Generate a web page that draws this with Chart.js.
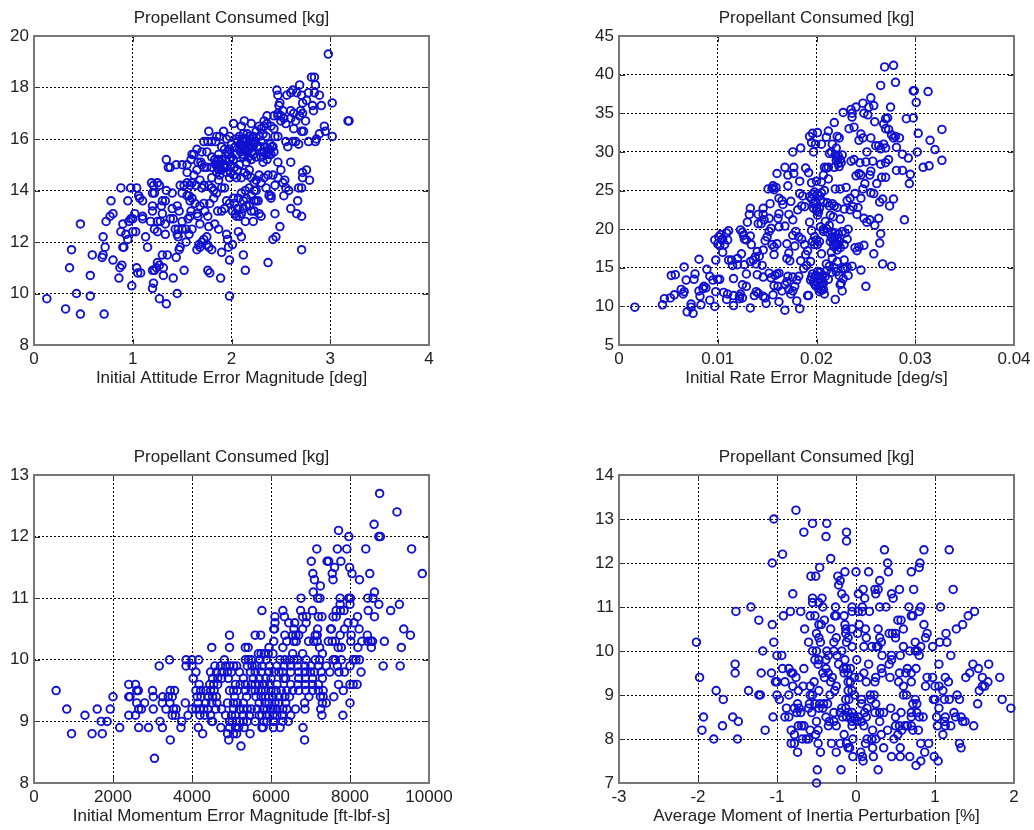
<!DOCTYPE html>
<html>
<head>
<meta charset="utf-8">
<title>Propellant Consumed</title>
<script src="https://cdn.jsdelivr.net/npm/chart.js@4"></script>
<style>
  html, body { margin: 0; padding: 0; background: #fff; }
  body { width: 1034px; height: 830px; position: relative; overflow: hidden; }
  canvas { position: absolute; filter: blur(0.4px); }
</style>
</head>
<body>
<canvas id="chartAttitude" style="left:0;top:0"></canvas>
<canvas id="chartRate" style="left:580px;top:0"></canvas>
<canvas id="chartMomentum" style="left:0;top:439px"></canvas>
<canvas id="chartInertia" style="left:580px;top:439px"></canvas>
<script>
// ---- DATA: [x, kg] pairs ----
var attitudePoints = [
  [0.13,9.8],[0.32,9.4],[0.47,9.2],[0.71,9.2],[0.43,10],[0.57,9.9],[0.36,11],[0.38,11.7],[0.47,12.7],[0.57,10.7],[0.59,11.5],[0.69,11.4],[0.7,11.5],[0.7,12.2],[0.72,11.8],[0.73,12.8],[0.77,13],[0.8,13.1],[0.78,13.6],[0.8,11.3],
  [0.86,10.6],[0.87,11],[0.89,11.1],[0.88,12.4],[0.9,11.8],[0.91,11.8],[0.9,12.7],[0.88,14.1],[0.93,12.3],[0.95,12.1],[0.95,13.6],[0.96,12.8],[0.98,12.9],[1,12.9],[0.99,10.3],[1,12.4],[1.03,12.4],[1.02,13.1],[0.98,14.1],[1.04,14.1],
  [1.06,13.8],[1.07,13.7],[1.1,13.6],[1.1,13],[1.1,12.9],[1.04,11],[1.05,10.8],[1.08,10.8],[1.13,12.2],[1.15,11.8],[1.18,12.8],[1.2,13.2],[1.2,13.4],[1.19,14.3],[1.21,14.2],[1.2,13.9],[1.22,13.9],[1.25,14.3],[1.27,14.2],[1.25,12.8],
  [1.22,12.5],[1.25,12.4],[1.28,12.8],[1.2,10.9],[1.22,10.9],[1.24,11],[1.25,11.2],[1.27,11.1],[1.2,10.2],[1.21,10.4],[1.27,9.8],[1.34,9.6],[1.3,11.5],[1.35,11.5],[1.31,11],[1.31,10.7],[1.41,10.6],[1.45,10],[1.44,11.4],[1.47,11.7],
  [1.48,11.8],[1.52,10.9],[1.54,12],[1.33,12.3],[1.33,12.7],[1.3,13.1],[1.29,13.4],[1.3,13.6],[1.33,13.6],[1.34,14],[1.4,13.9],[1.38,12.9],[1.41,12.9],[1.4,13.3],[1.45,13.4],[1.47,13.2],[1.43,12.5],[1.46,12.5],[1.45,12.3],[1.46,12.2],
  [1.5,12.5],[1.54,12.5],[1.5,12.8],[1.56,12.9],[1.58,13],[1.6,12.5],[1.57,12.3],[1.34,15.2],[1.36,14.9],[1.38,14.9],[1.44,15],[1.5,15],[1.55,15],[1.48,14.2],[1.55,14.7],[1.55,14.3],[1.59,15.2],[1.6,15.4],[1.62,15.4],[1.65,15.6],
  [1.7,15.5],[1.75,15.5],[1.77,16.3],[1.76,15.9],[1.5,13.9],[1.52,14.2],[1.55,13.8],[1.57,13.8],[1.6,13.7],[1.58,13.6],[1.63,13.5],[1.59,13.2],[1.65,13.1],[1.66,13],[1.68,12.7],[1.72,13.5],[1.73,13.2],[1.76,13],[1.77,12.6],[1.78,13.5],
  [1.82,13.7],[1.85,13.9],[1.83,12.7],[1.87,12.5],[1.86,13.2],[1.9,13.2],[1.93,13.3],[1.95,12.3],[1.96,12.1],[1.97,11.8],[2.01,11.9],[1.9,11.6],[1.98,11.3],[2.07,12.4],[2.1,12.2],[2.12,11.5],[2.14,10.9],[1.76,10.9],[1.78,10.8],[1.89,10.6],
  [1.98,9.9],[1.65,11.7],[1.67,11.9],[1.7,12],[1.72,12.1],[1.75,12.2],[1.75,11.9],[1.77,11.8],[1.8,11.7],[1.68,11.8],[2.37,11.2],[2.42,12.1],[2.45,12.2],[2.49,12.6],[2.71,11.7],[2.44,13.1],[2.6,13.3],[2.66,13.1],[2.71,13],[2.67,13.6],
  [2.68,14.1],[2.71,14.1],[2.72,14.5],[2.72,14.7],[2.76,14.8],[2.79,14.4],[2.6,15.1],[2.54,14.4],[2.5,14.8],[2.47,15.1],[2.52,14.3],[2.47,14.5],[2.44,14.2],[2.42,14.6],[2.37,14.6],[2.33,14.5],[2.35,14.1],[2.38,13.8],[2.4,13.8],[2.4,13.7],
  [2.53,13.8],[2.58,14],[2.25,13.6],[2.27,13.6],[2.2,13.2],[2.23,13.2],[2.28,13.1],[2.3,13],[2.14,12.8],[2.22,12.8],[2.05,13],[2.08,13],[2.1,13.1],[2.06,13.3],[2.12,13.3],[2.15,13.4],[2.18,13.4],[2.12,13.6],[2.15,13.7],[2.07,13.7],
  [2.1,13.9],[2.14,14],[2.18,14.1],[2.23,14],[2.25,14],[2.23,14.3],[2.25,14.4],[2.2,14.5],[2.1,14.5],[2.13,14.7],[2.16,14.6],[2.06,14.8],[2.05,14.5],[1.98,14.5],[1.95,14.7],[1.93,14.1],[1.9,14.1],[1.87,14.4],[1.82,14],[1.8,14.1],
  [1.77,14.2],[1.72,14.2],[1.7,14.1],[1.68,14.4],[1.64,14.2],[1.6,14.3],[1.65,14.8],[1.7,15],[1.72,14.9],[1.66,15.1],[1.69,15.1],[1.75,14.9],[1.8,14.9],[1.84,15],[1.86,14.9],[1.88,15],[1.9,15.2],[1.93,15],[1.87,15.4],[1.9,15.7],
  [1.85,16.1],[1.88,16.1],[1.92,16.3],[1.95,16],[1.98,16.1],[2.02,16.6],[2.1,16.5],[2.13,16.7],[2.2,16.6],[2.28,16.5],[2.33,16.7],[2.36,16.9],[2.43,16.9],[2.47,16.9],[2.4,16.5],[2.46,17.9],[2.47,17.7],[2.49,17.4],[2.48,17.3],[2.47,17],
  [2.53,16.8],[2.6,17.1],[2.63,17],[2.56,17.7],[2.6,17.8],[2.62,17.9],[2.66,17.8],[2.69,18.1],[2.71,17.7],[2.76,17.5],[2.72,17.4],[2.7,17.1],[2.69,16.9],[2.72,17],[2.78,17.8],[2.81,18.4],[2.84,18.4],[2.85,18.1],[2.84,17.8],[2.89,17.7],
  [2.82,17.3],[2.83,17.1],[2.91,17.3],[3.02,17.4],[2.98,19.3],[3.18,16.7],[3.19,16.7],[2.94,16.5],[2.95,16.3],[2.89,16.2],[3.02,16.1],[2.85,15.9],[2.86,16],[2.78,15.9],[2.75,16.7],[2.73,16.3],[2.71,16.3],[2.63,16.4],[2.65,16.7],[2.6,16.8],
  [2.68,15.8],[2.62,15.9],[2.57,15.7],[2.65,15.9],[2.55,15.9],[2.47,16.1],[2.44,16.1],[2.42,15.7],[2.38,15.4],[2,15.3],[2.02,15.2],[2.05,15.4],[2.08,15.6],[2.1,15.7],[2.12,15.9],[2.14,16],[2.16,15.8],[2.18,16.1],[2.2,15.9],[2.12,16.2],
  [2.08,16.1],[2.05,16],[2,15.8],[1.96,15.5],[1.93,15.6],[1.98,15.2],[2.15,15.5],[2.18,15.6],[2.22,15.4],[2.25,15.3],[2.2,15.2],[2.15,15.1],[2.26,15.7],[2.3,15.9],[2.28,16.1],[2.32,16.2],[2.25,16.3],[2.22,16.1],[2.35,16.1],[2.38,15.6],
  [2.4,15.4],[2.36,15.2],[2.33,15.5],[2.41,15.7],[2.32,15.1],[2.3,15.3],[2.12,15.4],[2.03,14.9],[1.9,14.8],[1.95,14.9],[2.08,15],[2.3,16.4],[2.33,16.5],[2.36,16.6],[1.8,15.3],[1.83,15.2],[1.8,15.9],[1.84,15.9],[1.72,15.9],[2.43,16.4],
  [2.5,16.7],[2.55,16.6],[2.5,16.9],[2.52,17.1],[2.14,15.6],[2.17,15.3],[2.2,15.7],[2.24,15.9],[2.04,15.7],[1.98,15.6],[1.85,14.7],[1.88,14.6],[2.02,13.7],[1.95,13.6],[1.98,13.5],[2.01,13.2],[2.04,13.1],[1.68,13.4],[1.8,14.5],[2.3,14.3],
  [2.06,15.9],[2.09,15.8],[2.11,16],[2.13,15.6],[2.15,15.9],[2.17,15.7],[2.19,16],[2.21,15.5],[2.23,15.8],[2.12,15.3],[2.16,16.2],[2.09,15.5],[2.31,15.5],[2.34,15.7],[2.37,15.5],[2.39,15.8],[2.43,15.5],[2.35,15.4],[2.29,15.7],
  [1.84,15.1],[1.87,14.8],[1.89,15.1],[1.92,14.9],[1.86,15.2],[1.94,15.2],[1.97,15.4],[1.99,15],[2.55,14.1],[2.03,13.5],[2.2,13.8],[2.23,13.6],[1.99,14.7],[2.02,14.6],[2.18,14.8],[2.28,14.6],[1.62,14.6],[1.58,14.2]
];

var ratePoints = [
  [0.0016,9.9],[0.0044,10.2],[0.0046,11],[0.0052,11.1],[0.0053,14],[0.0056,11.5],[0.0057,14.1],[0.0063,12.2],[0.0065,11.6],[0.0066,11.9],[0.0066,15.1],[0.0068,13.4],[0.0069,9.3],[0.0073,10.3],[0.0075,9.1],[0.0073,9.9],[0.0076,13.5],[0.0077,14.2],[0.0081,16.1],[0.0081,12],
  [0.0082,11.3],[0.0083,10.2],[0.0085,12.3],[0.0086,12.6],[0.0088,12.4],[0.0089,14.8],[0.0092,10.8],[0.0092,13.9],[0.0095,13.4],[0.0098,16],[0.0097,10],[0.0098,11.9],[0.01,13.5],[0.0102,13.5],[0.0097,18.6],[0.01,18.1],[0.0101,19],[0.0102,17.9],[0.0103,19.3],[0.0104,18.6],
  [0.0105,18.7],[0.0107,18],[0.0109,19.5],[0.011,18.6],[0.0111,19.8],[0.0105,17],[0.0106,11.8],[0.011,11.6],[0.0109,10.9],[0.0111,16],[0.0114,16],[0.0115,15.3],[0.0116,13.6],[0.0116,11.4],[0.0116,10.1],[0.012,16.2],[0.012,15.4],[0.0123,11.6],[0.0122,11.3],[0.0125,11.1],
  [0.0122,11],[0.0124,16.8],[0.0123,19.9],[0.0125,19.6],[0.0126,19.2],[0.0127,18.7],[0.0129,18.6],[0.0125,12.8],[0.0129,12.6],[0.0129,14.2],[0.0127,15.4],[0.013,20.9],[0.0132,21.9],[0.0133,22.7],[0.0133,9.8],[0.0133,19.1],[0.0134,18],[0.0133,15.8],[0.0136,16],[0.0138,16.4],
  [0.0137,11.4],[0.0139,11.9],[0.0141,11.7],[0.014,14.1],[0.0139,15.5],[0.014,17.1],[0.0142,16.5],[0.0141,20.7],[0.0144,20.7],[0.0141,21.9],[0.0146,21.9],[0.0146,22.7],[0.0147,21.2],[0.0146,17.3],[0.0145,15.3],[0.0146,13.8],[0.0146,11.3],[0.0148,11.1],[0.0149,10.4],[0.0148,18.5],
  [0.015,19],[0.0152,19.7],[0.0154,20.1],[0.0152,21.4],[0.0151,25.2],[0.0153,23.3],[0.0155,25.3],[0.0156,25.6],[0.0157,25.1],[0.0159,25.4],[0.0155,18],[0.0157,17.7],[0.016,18.1],[0.0157,16.7],[0.0152,14.3],[0.0154,13.7],[0.0156,11.5],[0.0157,12.7],[0.0158,14],[0.016,14.2],
  [0.0161,12.6],[0.0162,14.3],[0.0162,10.6],[0.0165,12],[0.0168,12.8],[0.0168,9.5],[0.017,13.2],[0.0171,13.9],[0.0172,12.2],[0.0174,11.6],[0.0176,12],[0.0178,12.6],[0.0176,13.8],[0.0182,13.9],[0.018,13.4],[0.018,10.7],[0.0183,9.7],[0.0162,20.3],[0.0161,21.4],[0.0162,22],
  [0.0162,24],[0.016,27.2],[0.0165,23.7],[0.0166,23.2],[0.0168,28],[0.0171,27],[0.0171,25.6],[0.0174,23.6],[0.0177,27.2],[0.0177,28],[0.0172,21.9],[0.0176,21.2],[0.0168,20.4],[0.017,18.1],[0.0172,16.9],[0.017,16.2],[0.0173,15.9],[0.0176,19.2],[0.0179,19.7],[0.0178,17.8],
  [0.0182,19],[0.0185,18.7],[0.0188,18],[0.0184,15.9],[0.0187,14.9],[0.019,15.3],[0.0189,16.7],[0.0191,17.2],[0.0194,15.8],[0.0192,11.4],[0.0191,11.4],[0.0181,22.5],[0.0185,23],[0.0188,22.9],[0.0183,24.6],[0.0186,24.3],[0.0183,26.2],[0.0184,30.5],[0.0176,30],[0.0189,27.9],
  [0.0192,27.3],[0.0195,26],[0.0193,32],[0.0195,31.2],[0.0196,32.4],[0.0197,30],[0.0199,31],[0.0201,32.5],[0.0205,31],[0.021,31.9],[0.0212,32.7],[0.0216,31],[0.0215,30],[0.022,30.5],[0.0218,33.8],[0.0221,32],[0.0223,31.8],[0.0221,29.2],[0.0224,29],[0.0222,28.5],
  [0.0225,28.6],[0.0218,28],[0.0208,28],[0.021,27.9],[0.0207,27],[0.0212,26.5],[0.0205,26.1],[0.02,26.2],[0.0196,24.5],[0.0198,24.8],[0.0201,24.5],[0.0203,24.3],[0.0205,24.7],[0.0195,23.9],[0.0199,23.5],[0.0204,23.8],[0.0197,22.7],[0.02,22.8],[0.0202,22.2],[0.0201,21.8],
  [0.0193,20.9],[0.0195,19.8],[0.0198,18],[0.0196,18.4],[0.02,18.6],[0.0203,18.4],[0.0204,20.3],[0.0207,20],[0.021,20.1],[0.0209,21],[0.0213,20.5],[0.0215,18.9],[0.0217,18.7],[0.0218,19],[0.0219,18.3],[0.0221,18.8],[0.0222,18],[0.0224,17.6],[0.0221,17.3],[0.0226,19.7],
  [0.0229,19.5],[0.0231,18.7],[0.0228,18],[0.0217,21.6],[0.0224,21.3],[0.0228,22.6],[0.0231,23.7],[0.0234,24],[0.023,25.4],[0.0269,41],[0.0278,41.2],[0.0265,38.6],[0.028,39],[0.0298,37.9],[0.0299,37.9],[0.0313,37.8],[0.0255,37],[0.0301,36.4],[0.0275,35.8],[0.0253,35.8],
  [0.0258,36],[0.0235,35.5],[0.024,35.8],[0.0227,35.1],[0.0236,35],[0.0236,34.5],[0.0247,36.3],[0.0248,35],[0.0252,34.8],[0.0259,33.9],[0.027,34.3],[0.0272,34.4],[0.0291,34.3],[0.0298,34.4],[0.0268,33.6],[0.027,33],[0.0273,32.9],[0.0233,33],[0.0238,33.2],[0.0327,32.9],
  [0.0303,32.4],[0.0315,31.5],[0.032,30.3],[0.0302,30],[0.0327,28.9],[0.0314,28.2],[0.0308,28],[0.0293,29.2],[0.0287,29.7],[0.0281,30.6],[0.0284,31.8],[0.028,32],[0.0278,31.8],[0.0276,32.2],[0.0265,30.4],[0.027,30.5],[0.0268,31],[0.026,30.8],[0.0263,30.8],[0.0255,31.8],
  [0.0245,32.3],[0.0247,31.8],[0.0243,31.5],[0.0251,30],[0.0257,28.8],[0.025,28.7],[0.0244,28.6],[0.0265,28.4],[0.027,28.6],[0.0273,29],[0.0281,27.6],[0.0287,27.6],[0.0295,27.1],[0.0294,25.9],[0.0266,26.7],[0.027,26.7],[0.0261,25.9],[0.0255,27.5],[0.0254,27],[0.0245,27],
  [0.024,26.9],[0.0243,27.2],[0.0255,24.7],[0.0258,24.6],[0.0264,23.5],[0.0267,23.9],[0.0278,23.9],[0.0274,23],[0.0289,21.2],[0.0263,21.4],[0.0265,19.4],[0.0264,18.2],[0.0259,20.5],[0.0251,20.9],[0.0248,21.4],[0.0254,21.2],[0.0248,17.9],[0.0243,17.7],[0.0239,17.6],[0.0241,17.2],
  [0.0258,16.8],[0.0267,15.5],[0.0276,15.2],[0.025,12.6],[0.0236,15.2],[0.0245,14.7],[0.0229,14.9],[0.0231,15.1],[0.0232,14],[0.0225,13],[0.0227,13.6],[0.0226,12],[0.0219,10.9],[0.0195,13.8],[0.0197,13.2],[0.0199,12.7],[0.02,14],[0.0201,13.1],[0.0202,12.3],[0.0203,11.9],
  [0.0204,14.4],[0.0205,13.5],[0.0206,12.6],[0.0207,13],[0.0208,11.6],[0.0209,13.9],[0.021,14.6],[0.0212,13.5],[0.0213,15.2],[0.0215,14.4],[0.0216,16.2],[0.0218,15],[0.022,14.5],[0.0221,15.8],[0.0223,14],[0.0224,12.8],[0.0227,14.9],[0.0228,16],[0.0205,16.8],[0.021,15.5],
  [0.0214,21.8],[0.0207,23.5],[0.0211,23.4],[0.0213,23],[0.0216,23.3],[0.0218,23],[0.0221,22.8],[0.0237,22.9],[0.0242,22.8],[0.0239,24.6],[0.0247,25.2],[0.0249,25.9],[0.0245,24],[0.0241,21.9],[0.0219,25.2],[0.0224,25.2],[0.0212,28],[0.0213,29.8],[0.0235,28.8],[0.0238,29],
  [0.0194,13.4],[0.0196,14.2],[0.0198,12.9],[0.0199,13.9],[0.0201,14.5],[0.0203,12.7],[0.0204,13.1],[0.0205,12.1],[0.0206,13.9],[0.0207,12.2],[0.0203,13.6],[0.0214,18.4],[0.0216,19.6],[0.0217,18],[0.0219,19.5],[0.022,17.9],[0.0222,19.4],[0.0223,18.4],[0.0218,17.7],
  [0.0198,19],[0.0201,18],[0.0197,23.3],[0.02,22.4],[0.0203,22.7],[0.0207,19.7],[0.0211,19.6],[0.0222,29.5],[0.0223,28.1],[0.022,28.9],[0.0226,29.6],[0.0219,29.6],[0.0193,24.2],[0.0208,25],[0.0234,22.5],[0.0215,17],[0.0232,20]
];

var momentumRows = [
  [8.4,[3050]],[8.6,[5240]],
  [8.7,[3450,4930,6850]],
  [8.8,[950,1470,1730,4270,4900,5050,5130,5470]],
  [8.9,[2170,2650,2900,3250,3720,4160,4730,4950,5100,5180,5320,5770,5800,6060,6230,6810]],
  [9,[1700,1850,3190,3740,4500,4520,4950,5020,5120,5200,5300,5400,5600,5820,5900,6060,6300,6440]],
  [9.1,[1290,2400,2570,3500,3580,3900,4200,4320,4470,4850,5000,5100,5300,5450,5700,5770,5900,6050,6150,6280,6500,7290,7820]],
  [9.2,[830,1600,1930,2650,2720,3020,3340,3530,3600,4000,4100,4200,4300,4400,4600,4750,5050,5200,5300,5400,5500,5650,5800,5900,6000,6050,6150,6300,6400,6620,6860,7260]],
  [9.3,[2600,2800,3250,3440,3830,4150,4350,4500,4630,4900,5050,5150,5300,5700,5850,5950,6100,6200,6370,6850,7300,7400,8000]],
  [9.4,[2000,2400,2430,3020,3260,3400,3500,4130,4230,4400,4520,4620,5080,5380,5620,5750,5860,5950,6050,6200,6350,6470,6960,7250,7320,7590]],
  [9.5,[560,2600,2640,3000,3450,3560,4100,4220,4350,4470,4560,4950,5050,5150,5350,5500,5600,5750,5860,6000,6130,6260,6400,6550,6700,6880,7050,7200,7320,7830]],
  [9.6,[2400,2570,4180,4450,4550,4650,5100,5220,5350,5500,5600,5700,5830,5970,6150,6500,6680,6870,7050,7200,7710,8000,8080,8180]],
  [9.7,[4030,4520,4650,4750,4920,5300,5550,5700,5870,6000,6320,6370,6700,6870,7050,7300]],
  [9.8,[4100,4470,4620,4760,4900,5000,5200,5480,5600,5750,5950,6080,6200,6300,6500,6700,6860,7000,7100,7270,7490,7720,7860,8280]],
  [9.9,[3170,3850,4000,4580,4720,4850,4960,5050,5130,5400,5520,5640,5770,5960,6150,6330,6500,6680,6860,7010,7200,7400,7680,8000,8840,9270]],
  [10,[3430,3850,4000,4170,4820,5350,5430,5500,5720,5880,6230,6350,6470,6580,6670,6890,7120,7230,7570,7630,7780,8080,8150,8240]],
  [10.1,[5680,5750,5830,5930,6050,6550,6800,7300]],
  [10.2,[4500,4950,5350,5420,5950,6300,7230,7700,7780,8200,8540,9300]],
  [10.3,[6070,6400,6580,6640,6950,7080,7170,7450,7550,7630,8020,8300,8450,8530,8570,8870]],
  [10.4,[4950,5600,5740,6350,6550,6630,6700,7120,7170,7750,8030,8440,9530]],
  [10.5,[6070,6090,6580,6800,7180,7510,7530,7860,8230,9360]],
  [10.6,[6100,6450,6600,6890,7950,8100]],
  [10.7,[6100,6340,6800,6900,7200,7290,7570,7650,8190,8620]],
  [10.8,[5770,6300,6750,7050,7650,7760,7850,8460,9030]],
  [10.9,[7750,8000,8730,9250]],
  [11,[6760,7180,7240,7750,7970,8010,8450,8580]],
  [11.1,[7070,8620]],[11.2,[7250]],
  [11.3,[7100,7570,8240]],
  [11.4,[7060,7550,8050,8500,9830]],
  [11.5,[7610,7990]],
  [11.6,[7020,7420,7460,7770]],
  [11.8,[7160,7680,7920,8400,9560]],
  [12,[7970,8730,8770]],[12.1,[7710]],[12.2,[8610]],[12.4,[9190]],[12.7,[8750]]
];

var inertiaRows = [
  [7,[-0.5]],[7.3,[-0.49,-0.19,0.28]],[7.4,[0.76]],[7.5,[0.09,0.82,1.04]],
  [7.6,[-0.04,0.08,0.22,0.45,0.56,0.68,0.99]],
  [7.7,[-0.74,-0.45,-0.25,0.06,0.87]],
  [7.8,[-0.1,-0.08,0.21,0.35,0.56,1.33]],
  [7.9,[-0.82,-0.78,-0.48,-0.31,-0.2,-0.12,0.12,0.82,0.92,1.31]],
  [8,[-1.8,-1.5,-0.68,-0.63,-0.6,-0.04,0.14,0.2,0.25,0.48]],
  [8.1,[-0.78,-0.51,-0.15,0.32,0.53,1.1]],
  [8.2,[-1.95,-1.15,-0.82,-0.58,-0.48,0.21,0.4,0.58,0.72,0.79]],
  [8.3,[-1.69,-0.73,-0.69,-0.66,-0.35,-0.25,-0.05,0.1,0.5,0.55,0.62,0.65,0.7,1.03,1.13,1.2,1.49]],
  [8.4,[-1.49,-0.5,-0.34,-0.28,-0.05,0.01,0.07,0.3,1.12,1.35,1.38]],
  [8.5,[-1.93,-1.56,-1.05,-0.9,-0.85,-0.38,-0.17,-0.12,-0.07,-0.02,0.03,0.13,0.5,0.7,0.8,0.85,1.02,1.13,1.26,1.33]],
  [8.6,[-0.75,-0.7,-0.56,-0.28,-0.2,-0.1,-0.05,0.11,0.24,0.3,0.35,0.57,0.7,0.77,1.24]],
  [8.7,[-0.88,-0.78,-0.72,-0.6,-0.47,-0.42,-0.18,-0.13,0.14,0.44,1.05,1.96]],
  [8.8,[-0.74,-0.59,-0.52,-0.46,-0.41,-0.36,0.07,0.25,0.72,0.77,1.54]],
  [8.9,[-1.68,-0.97,-0.13,-0.09,0.07,0.19,0.75,0.98,1,1.12,1.18,1.31,1.85]],
  [9,[-1.23,-1.21,-1,-0.85,-0.58,-0.55,-0.33,-0.02,0.18,0.23,0.6,0.64,1.28]],
  [9.1,[-1.77,-1.36,-0.73,-0.47,-0.27,-0.1,-0.05,1.1,1.56]],
  [9.2,[-0.8,-0.67,-0.58,-0.25,0.6,0.88,1,1.05,1.6,1.63]],
  [9.3,[-1.02,-1,-0.9,-0.53,-0.32,-0.1,-0.07,0.13,0.24,0.54,0.7,1.17,1.67]],
  [9.4,[-1.98,-0.76,-0.4,-0.3,-0.02,0.04,0.25,0.43,0.9,0.97,1.13,1.39,1.6,1.82]],
  [9.5,[-1.53,-1.2,-1.07,-0.82,-0.8,-0.42,-0.35,-0.15,-0.1,0.1,0.33,0.55,0.63,0.7,1.44]],
  [9.6,[-0.93,-0.85,-0.66,-0.38,-0.16,-0.12,-0.07,0.32,0.65,0.76,1.55]],
  [9.7,[-1.53,-0.48,-0.22,0.16,0.42,1.05,1.48,1.68]],
  [9.8,[-0.52,-0.47,-0.38,-0.14,0.01,0.45]],
  [9.9,[-1,-0.94,-0.35,-0.24,0.33,0.45,0.56,0.8,1.2]],
  [10,[-1.18,-0.55,-0.5,-0.37,-0.28,-0.18,0.68,0.75,0.78]],
  [10.1,[-0.05,0.1,0.2,0.26,0.28,0.6,0.82,0.97]],
  [10.2,[-2.02,-1.04,-0.6,-0.45,-0.28,-0.12,0.32,0.75,1.06,1.15]],
  [10.3,[-0.47,-0.25,-0.1,0.13,0.3,0.5,0.88]],
  [10.4,[-0.5,-0.13,0.02,0.42,0.46,0.5,0.9,1.14]],
  [10.5,[-0.65,-0.32,-0.13,-0.05,0.12,0.28,0.6,1.27]],
  [10.6,[-1.06,-0.47,-0.44,-0.14,0.04,0.86,1.35]],
  [10.7,[-1.23,-0.4,0.53,0.57]],
  [10.8,[-0.92,-0.58,-0.52,-0.27,-0.25,-0.15,0.7,0.72,1.42]],
  [10.9,[-1.52,-0.83,-0.7,-0.05,0.03,0.08,0.17,0.8,1.5]],
  [11,[-1.33,-0.42,-0.26,-0.05,0.08,0.3,0.38,0.67,0.82,1.07]],
  [11.1,[-0.55,-0.47]],
  [11.2,[-0.55,-0.43,-0.14,0.11,0.47]],
  [11.3,[-0.8,-0.18,0.03,0.25,0.45]],
  [11.4,[0.09,0.24,0.28,0.55,0.73,1.23]],
  [11.5,[-0.22]],[11.6,[-0.2,0.3]],
  [11.7,[-0.57,-0.51,-0.23]],
  [11.8,[-0.14,0,0.16,0.41,0.7]],
  [11.9,[-0.46,0.8]],[12,[-1.06,0.4,0.81]],[12.1,[-0.32]],[12.2,[-0.93]],
  [12.3,[0.36,0.86,1.18]],[12.5,[-0.12]],[12.6,[-0.38]],[12.7,[-0.66,-0.12]],
  [12.9,[-0.55,-0.37]],[13,[-1.04]],[13.2,[-0.76]]
];

var attitudeXTicks = ['0', '1', '2', '3', '4'];
var attitudeYTicks = ['8', '10', '12', '14', '16', '18', '20'];
var rateXTicks = ['0', '0.01', '0.02', '0.03', '0.04'];
var rateYTicks = ['5', '10', '15', '20', '25', '30', '35', '40', '45'];
var momentumXTicks = ['0', '2000', '4000', '6000', '8000', '10000'];
var momentumYTicks = ['8', '9', '10', '11', '12', '13'];
var inertiaXTicks = ['-3', '-2', '-1', '0', '1', '2'];
var inertiaYTicks = ['7', '8', '9', '10', '11', '12', '13', '14'];

var chartTitle = 'Propellant Consumed [kg]';
var FONT = '"Liberation Sans", Arial, sans-serif';
var INK = '#222';
var BLUE = '#1010d0';

function fromRows(rows) {
  var pts = [];
  rows.forEach(function (r) {
    r[1].forEach(function (x) { pts.push({ x: x, y: r[0] }); });
  });
  return pts;
}

function fromPairs(pairs) {
  return pairs.map(function (p) { return { x: p[0], y: p[1] }; });
}

// ---- MATLAB style box + inward ticks ----
var boxPlugin = {
  id: 'box',
  beforeDatasetsDraw: function (chart) {
    var a = chart.chartArea, c = chart.ctx, tick = 6;
    c.save();
    c.strokeStyle = '#333';
    c.lineWidth = 1;
    chart.scales.x.ticks.forEach(function (t) {
      var px = Math.round(chart.scales.x.getPixelForValue(t.value)) + 0.5;
      c.beginPath();
      c.moveTo(px, a.top); c.lineTo(px, a.top + tick);
      c.moveTo(px, a.bottom); c.lineTo(px, a.bottom - tick);
      c.stroke();
    });
    chart.scales.y.ticks.forEach(function (t) {
      var py = Math.round(chart.scales.y.getPixelForValue(t.value)) + 0.5;
      c.beginPath();
      c.moveTo(a.left, py); c.lineTo(a.left + tick, py);
      c.moveTo(a.right, py); c.lineTo(a.right - tick, py);
      c.stroke();
    });
    c.strokeStyle = '#777';
    c.lineWidth = 2;
    c.strokeRect(Math.round(a.left), Math.round(a.top), Math.round(a.width), Math.round(a.height));
    c.restore();
  }
};

function panel(id, o) {
  var el = document.getElementById(id);
  el.width = o.w; el.height = o.h;
  el.style.width = o.w + 'px'; el.style.height = o.h + 'px';

  function axis(min, max, step, labels) {
    return {
      type: 'linear', min: min, max: max,
      ticks: {
        stepSize: step, autoSkip: false, maxRotation: 0, color: INK,
        font: { family: FONT, size: 17 },
        callback: function (v, i) { return labels[i]; }
      },
      grid: { color: '#000', lineWidth: 1, drawTicks: false },
      border: { display: false, dash: [2, 2] }
    };
  }

  var x = axis(o.xMin, o.xMax, o.xStep, o.xTicks);
  x.ticks.padding = 4;
  x.title = { display: true, text: o.xLabel, color: INK, font: { family: FONT, size: 17 }, padding: { top: 0, bottom: 1 } };
  x.afterFit = function (s) { s.height = o.bottom; s.paddingLeft = 0; s.paddingRight = 0; };

  var y = axis(o.yMin, o.yMax, o.yStep, o.yTicks);
  y.ticks.padding = 5;
  y.afterFit = function (s) { s.width = o.left; s.paddingTop = 0; s.paddingBottom = 0; };

  new Chart(el, {
    type: 'scatter',
    data: {
      datasets: [{
        data: o.points,
        pointStyle: 'circle',
        pointRadius: 3.8,
        pointBorderWidth: 1.9,
        pointBorderColor: BLUE,
        pointBackgroundColor: 'rgba(0,0,0,0)',
        clip: false
      }]
    },
    options: {
      responsive: false,
      animation: false,
      layout: { padding: { right: o.right } },
      plugins: {
        legend: { display: false },
        tooltip: { enabled: false },
        title: {
          display: true, text: chartTitle, color: INK, fullSize: false,
          font: { family: FONT, size: 17, weight: 'normal' },
          padding: { top: 8, bottom: 7.6 }
        }
      },
      scales: { x: x, y: y }
    },
    plugins: [boxPlugin]
  });
}

panel('chartAttitude', {
  w: 470, h: 390, left: 34, right: 41, bottom: 45,
  xMin: 0, xMax: 4, xStep: 1, xTicks: attitudeXTicks,
  yMin: 8, yMax: 20, yStep: 2, yTicks: attitudeYTicks,
  xLabel: 'Initial Attitude Error Magnitude [deg]',
  points: fromPairs(attitudePoints)
});

panel('chartRate', {
  w: 454, h: 390, left: 39, right: 20, bottom: 45,
  xMin: 0, xMax: 0.04, xStep: 0.01, xTicks: rateXTicks,
  yMin: 5, yMax: 45, yStep: 5, yTicks: rateYTicks,
  xLabel: 'Initial Rate Error Magnitude [deg/s]',
  points: fromPairs(ratePoints)
});

panel('chartMomentum', {
  w: 470, h: 389, left: 34, right: 41, bottom: 45,
  xMin: 0, xMax: 10000, xStep: 2000, xTicks: momentumXTicks,
  yMin: 8, yMax: 13, yStep: 1, yTicks: momentumYTicks,
  xLabel: 'Initial Momentum Error Magnitude [ft-lbf-s]',
  points: fromRows(momentumRows)
});

panel('chartInertia', {
  w: 454, h: 389, left: 39, right: 20, bottom: 45,
  xMin: -3, xMax: 2, xStep: 1, xTicks: inertiaXTicks,
  yMin: 7, yMax: 14, yStep: 1, yTicks: inertiaYTicks,
  xLabel: 'Average Moment of Inertia Perturbation [%]',
  points: fromRows(inertiaRows)
});
</script>
</body>
</html>
